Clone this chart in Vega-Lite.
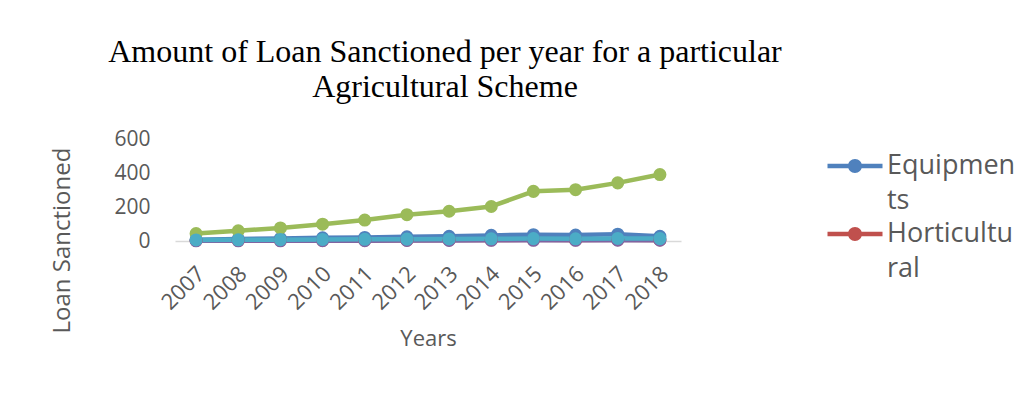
{
  "$schema": "https://vega.github.io/schema/vega-lite/v6.json",
  "autosize": "none",
  "width": 506,
  "height": 102,
  "padding": {"left": 175, "top": 139, "right": 334, "bottom": 170},
  "background": "white",
  "title": {
    "text": ["Amount of Loan Sanctioned per year for a particular", "Agricultural Scheme"],
    "font": "Liberation Serif",
    "fontSize": 32,
    "fontWeight": "normal",
    "color": "black",
    "lineHeight": 35,
    "anchor": "middle",
    "frame": "group",
    "dx": 17,
    "offset": 24
  },
  "data": {
    "values": [
      {"Year": "2007", "Series": "Equipments", "Amount": 8},
      {"Year": "2008", "Series": "Equipments", "Amount": 12},
      {"Year": "2009", "Series": "Equipments", "Amount": 15},
      {"Year": "2010", "Series": "Equipments", "Amount": 19},
      {"Year": "2011", "Series": "Equipments", "Amount": 21},
      {"Year": "2012", "Series": "Equipments", "Amount": 25},
      {"Year": "2013", "Series": "Equipments", "Amount": 28},
      {"Year": "2014", "Series": "Equipments", "Amount": 33},
      {"Year": "2015", "Series": "Equipments", "Amount": 37},
      {"Year": "2016", "Series": "Equipments", "Amount": 35},
      {"Year": "2017", "Series": "Equipments", "Amount": 40},
      {"Year": "2018", "Series": "Equipments", "Amount": 28},
      {"Year": "2007", "Series": "Horticultural", "Amount": 3},
      {"Year": "2008", "Series": "Horticultural", "Amount": 3},
      {"Year": "2009", "Series": "Horticultural", "Amount": 4},
      {"Year": "2010", "Series": "Horticultural", "Amount": 4},
      {"Year": "2011", "Series": "Horticultural", "Amount": 5},
      {"Year": "2012", "Series": "Horticultural", "Amount": 5},
      {"Year": "2013", "Series": "Horticultural", "Amount": 6},
      {"Year": "2014", "Series": "Horticultural", "Amount": 6},
      {"Year": "2015", "Series": "Horticultural", "Amount": 7},
      {"Year": "2016", "Series": "Horticultural", "Amount": 6},
      {"Year": "2017", "Series": "Horticultural", "Amount": 7},
      {"Year": "2018", "Series": "Horticultural", "Amount": 6},
      {"Year": "2007", "Series": "Series3", "Amount": 44},
      {"Year": "2008", "Series": "Series3", "Amount": 60},
      {"Year": "2009", "Series": "Series3", "Amount": 77},
      {"Year": "2010", "Series": "Series3", "Amount": 99},
      {"Year": "2011", "Series": "Series3", "Amount": 123},
      {"Year": "2012", "Series": "Series3", "Amount": 155},
      {"Year": "2013", "Series": "Series3", "Amount": 175},
      {"Year": "2014", "Series": "Series3", "Amount": 203},
      {"Year": "2015", "Series": "Series3", "Amount": 292},
      {"Year": "2016", "Series": "Series3", "Amount": 302},
      {"Year": "2017", "Series": "Series3", "Amount": 342},
      {"Year": "2018", "Series": "Series3", "Amount": 391},
      {"Year": "2007", "Series": "Series4", "Amount": 1},
      {"Year": "2008", "Series": "Series4", "Amount": 1},
      {"Year": "2009", "Series": "Series4", "Amount": 1},
      {"Year": "2010", "Series": "Series4", "Amount": 2},
      {"Year": "2011", "Series": "Series4", "Amount": 2},
      {"Year": "2012", "Series": "Series4", "Amount": 3},
      {"Year": "2013", "Series": "Series4", "Amount": 3},
      {"Year": "2014", "Series": "Series4", "Amount": 4},
      {"Year": "2015", "Series": "Series4", "Amount": 4},
      {"Year": "2016", "Series": "Series4", "Amount": 4},
      {"Year": "2017", "Series": "Series4", "Amount": 5},
      {"Year": "2018", "Series": "Series4", "Amount": 5},
      {"Year": "2007", "Series": "Series5", "Amount": 6},
      {"Year": "2008", "Series": "Series5", "Amount": 7},
      {"Year": "2009", "Series": "Series5", "Amount": 8},
      {"Year": "2010", "Series": "Series5", "Amount": 9},
      {"Year": "2011", "Series": "Series5", "Amount": 10},
      {"Year": "2012", "Series": "Series5", "Amount": 11},
      {"Year": "2013", "Series": "Series5", "Amount": 12},
      {"Year": "2014", "Series": "Series5", "Amount": 13},
      {"Year": "2015", "Series": "Series5", "Amount": 14},
      {"Year": "2016", "Series": "Series5", "Amount": 13},
      {"Year": "2017", "Series": "Series5", "Amount": 15},
      {"Year": "2018", "Series": "Series5", "Amount": 14}
    ]
  },
  "encoding": {
    "x": {
      "field": "Year",
      "type": "ordinal",
      "scale": {"type": "band", "paddingInner": 0, "paddingOuter": 0},
      "axis": {
        "title": "Years",
        "titleFont": "Open Sans",
        "titleFontSize": 22,
        "titleFontWeight": "normal",
        "titleColor": "#595959",
        "titleY": 97,
        "titleBaseline": "middle",
        "labelAngle": -45,
        "labelAlign": "right",
        "labelBaseline": "middle",
        "labelPadding": 29,
        "labelOffset": 5,
        "labelFont": "Open Sans",
        "labelFontSize": 22,
        "labelColor": "#595959",
        "ticks": false,
        "grid": false,
        "domainColor": "#D9D9D9",
        "domainWidth": 1.5
      }
    },
    "y": {
      "field": "Amount",
      "type": "quantitative",
      "scale": {"domain": [0, 600], "nice": false},
      "axis": {
        "title": "Loan Sanctioned",
        "titleFont": "Open Sans",
        "titleFontSize": 24,
        "titleFontWeight": "normal",
        "titleColor": "#595959",
        "titleAngle": 270,
        "titleX": -113,
        "titleY": 101,
        "titleAlign": "center",
        "titleBaseline": "middle",
        "values": [0, 200, 400, 600],
        "labelFont": "Open Sans",
        "labelFontSize": 21,
        "labelColor": "#595959",
        "labelPadding": 25,
        "ticks": false,
        "grid": false,
        "domain": false
      }
    },
    "color": {
      "field": "Series",
      "type": "nominal",
      "scale": {
        "domain": ["Equipments", "Horticultural", "Series3", "Series4", "Series5"],
        "range": ["#4F81BD", "#C0504D", "#9BBB59", "#8064A2", "#4BACC6"]
      },
      "legend": {
        "values": ["Equipments", "Horticultural"],
        "title": null,
        "orient": "none",
        "legendX": 660,
        "legendY": 7,
        "symbolType": "M-1.375,-0.11L-0.33,-0.11L-0.33,0.11L-1.375,0.11Z M0.33,-0.11L1.375,-0.11L1.375,0.11L0.33,0.11Z M-0.35,0A0.35,0.35 0 1,1 0.35,0A0.35,0.35 0 1,1 -0.35,0Z",
        "symbolSize": 1600,
        "symbolStrokeWidth": 0,
        "symbolOpacity": 1,
        "labelFont": "Open Sans",
        "labelFontSize": 27,
        "labelColor": "#595959",
        "labelLimit": 0,
        "labelOffset": 12,
        "labelBaseline": "middle",
        "labelExpr": "datum.label == 'Equipments' ? ['Equipmen', 'ts'] : ['Horticultu', 'ral']",
        "rowPadding": 0,
        "padding": 0
      }
    },
    "order": {"field": "Year"}
  },
  "layer": [
    {
      "mark": {"type": "line", "strokeWidth": 4.5, "strokeCap": "round", "strokeJoin": "round"}
    },
    {
      "mark": {"type": "point", "shape": "circle", "filled": true, "size": 170, "opacity": 1}
    }
  ],
  "config": {
    "view": {"stroke": null},
    "style": {"guide-label": {"lineHeight": 35}}
  }
}
